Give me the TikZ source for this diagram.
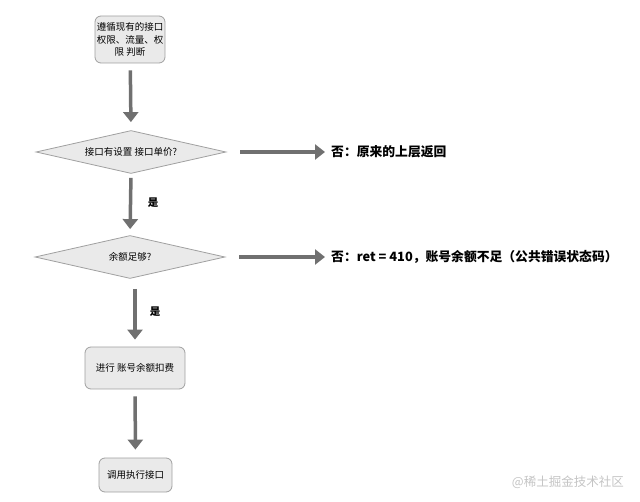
\documentclass[tikz,border=0pt]{standalone}
\usepackage{fontspec}
\setmainfont{Noto Sans CJK SC}
\usetikzlibrary{shapes.geometric,arrows.meta}
\definecolor{arrowgray}{HTML}{707070}
\definecolor{boxline}{HTML}{A0A0A0}
\definecolor{boxfill}{HTML}{EAEAEA}
\definecolor{markgray}{HTML}{C4C4C4}

\begin{document}
\begin{tikzpicture}[x=1pt,y=-1pt,>={Triangle[width=15pt,length=10pt]},
  flow/.style={->,color=arrowgray,line width=3.5pt},
  box/.style={draw=boxline,fill=boxfill,rounded corners=6pt,line width=0.8pt,inner sep=1pt,align=center,font=\fontsize{9.5}{12.5}\selectfont},
  decide/.style={diamond,draw=boxline,fill=boxfill,line width=0.8pt,inner sep=0pt,minimum width=190pt,minimum height=43pt,aspect=4.4,font=\fontsize{9.5}{12}\selectfont},
  answer/.style={anchor=west,inner sep=0pt,font=\bfseries\fontsize{12.8}{15}\selectfont},
  yes/.style={inner sep=0pt,font=\bfseries\fontsize{10.5}{12}\selectfont}]

    \useasboundingbox (0,0) rectangle (640,502);

    % The flow
	\node [box,minimum width=70pt,minimum height=47pt] at (130,39.5) (check) {遵循现有的接口\\权限、流量、权\\限 判断};
	\node [decide] at (131,152) (price) {接口有设置 接口单价?};
	\node [decide] at (130,257) (balance) {余额足够?};
	\node [box,minimum width=100pt,minimum height=42pt] at (135,368) (charge) {进行 账号余额扣费};
	\node [box,minimum width=73pt,minimum height=34pt] at (135.5,475) (call) {调用执行接口};

	% Answers
	\node [answer] at (331,152) (back) {否：原来的上层返回};
	\node [answer] at (331,257) (fail) {否：ret = 410，账号余额不足（公共错误状态码）};
	\node [yes] at (153,203) (yes1) {是};
	\node [yes] at (155,312) (yes2) {是};

	% Flow edges
	\path[flow,shorten <=7pt,shorten >=8pt]
	(check) edge (price.north)
	(charge) edge (call);

	\path[flow,shorten <=4pt,shorten >=6pt]
	(price.south) edge (balance.north);

	\path[flow,shorten <=10pt,shorten >=7pt]
	(balance.south -| charge.north) edge (charge);

	\path[flow,shorten <=14pt,shorten >=6pt]
	(price.east) edge (back)
	(balance.east) edge (fail);

	% Watermark
	\node [inner sep=0pt,text=markgray,anchor=east,font=\fontsize{12.5}{14}\selectfont] at (624,482) (mark) {@稀土掘金技术社区};

\end{tikzpicture}
\end{document}
